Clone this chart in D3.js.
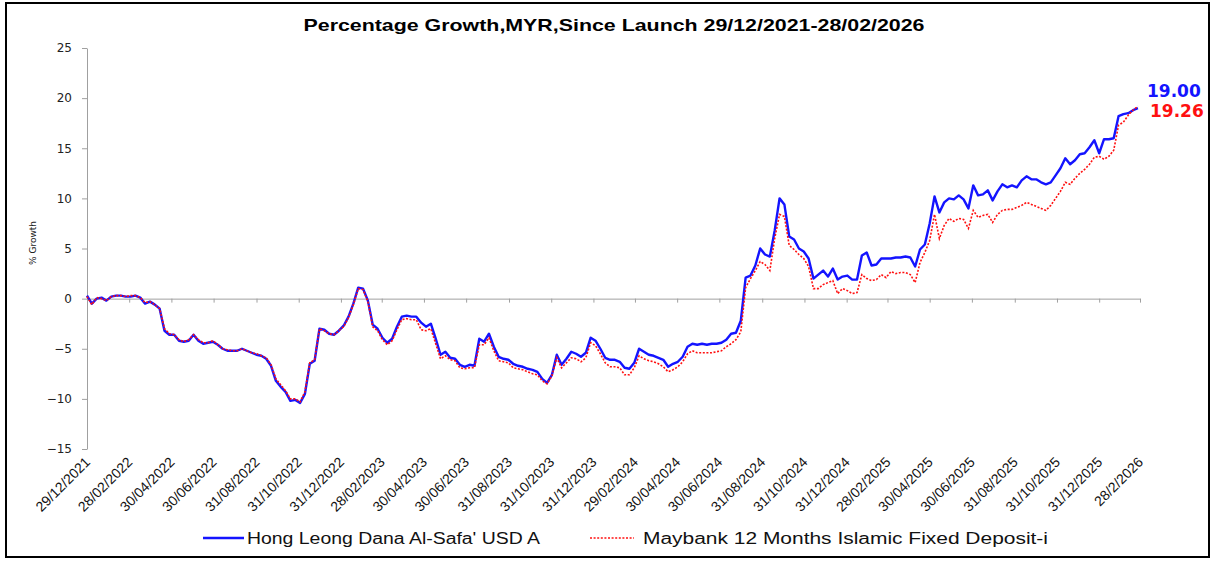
<!DOCTYPE html>
<html>
<head>
<meta charset="utf-8">
<script src="https://cdn.jsdelivr.net/npm/d3@7"></script>
<style>
  body { margin: 0; background: #fff; }
  svg { display: block; }
</style>
</head>
<body>
<svg id="chart"></svg>
<script>
const chartTitle = "Percentage Growth,MYR,Since Launch 29/12/2021-28/02/2026";
const seriesNames = ["Hong Leong Dana Al-Safa' USD A", "Maybank 12 Months Islamic Fixed Deposit-i"];
const startDate = "2021-12-29";

const fundValues = [
  0.3, -0.5, 0.0, 0.1, -0.2, 0.2, 0.3, 0.3, 0.2, 0.2,
  0.3, 0.1, -0.5, -0.3, -0.6, -1.0, -3.2, -3.6, -3.6, -4.2,
  -4.3, -4.2, -3.6, -4.2, -4.5, -4.4, -4.3, -4.6, -5.0, -5.2,
  -5.2, -5.2, -5.0, -5.2, -5.4, -5.6, -5.7, -6.0, -6.7, -8.2,
  -8.8, -9.3, -10.2, -10.1, -10.4, -9.5, -6.5, -6.2, -3.0, -3.1,
  -3.5, -3.6, -3.2, -2.7, -1.8, -0.5, 1.1, 1.0, -0.2, -2.6,
  -3.0, -3.9, -4.4, -4.0, -2.8, -1.8, -1.7, -1.8, -1.8, -2.4,
  -2.8, -2.5, -4.0, -5.6, -5.3, -5.9, -6.0, -6.6, -6.8, -6.6,
  -6.7, -4.0, -4.3, -3.5, -4.8, -5.8, -6.0, -6.1, -6.5, -6.7,
  -6.8, -7.0, -7.1, -7.3, -8.0, -8.4, -7.6, -5.6, -6.6, -6.0,
  -5.3, -5.5, -5.8, -5.4, -3.9, -4.2, -5.0, -5.9, -6.1, -6.1,
  -6.3, -6.9, -7.0, -6.4, -5.0, -5.3, -5.6, -5.7, -5.9, -6.1,
  -6.8, -6.5, -6.3, -5.8, -4.8, -4.5, -4.6, -4.5, -4.6, -4.5,
  -4.5, -4.4, -4.1, -3.5, -3.4, -2.2, 2.1, 2.3, 3.3, 5.0,
  4.4, 4.2, 6.8, 10.0, 9.4, 6.2, 5.9, 5.0, 4.7, 4.0,
  2.0, 2.4, 2.8, 2.2, 3.0, 1.9, 2.2, 2.3, 1.9, 1.9,
  4.3, 4.6, 3.3, 3.4, 4.0, 4.0, 4.0, 4.1, 4.1, 4.2,
  4.1, 3.2, 4.9, 5.4, 7.5, 10.2, 8.6, 9.6, 10.0, 9.9,
  10.3, 9.9, 9.0, 11.3, 10.3, 10.4, 10.8, 9.8, 10.7, 11.4,
  11.1, 11.3, 11.1, 11.8, 12.2, 11.9, 11.9, 11.6, 11.4, 11.6,
  12.3, 13.0, 14.0, 13.4, 13.8, 14.4, 14.5, 15.1, 15.8, 14.5,
  15.9, 15.9, 16.0, 18.2, 18.4, 18.5, 18.8, 19.0
];

const depositValues = [
  0.2, -0.6, 0.1, 0.0, -0.2, 0.2, 0.3, 0.3, 0.2, 0.3,
  0.3, 0.1, -0.4, -0.3, -0.6, -1.0, -3.0, -3.5, -3.6, -4.1,
  -4.3, -4.1, -3.6, -4.1, -4.4, -4.4, -4.2, -4.6, -5.0, -5.1,
  -5.2, -5.2, -5.0, -5.2, -5.4, -5.5, -5.7, -5.9, -6.6, -8.0,
  -8.6, -9.2, -10.0, -10.0, -10.3, -9.3, -6.4, -6.1, -3.0, -3.2,
  -3.5, -3.6, -3.2, -2.8, -1.9, -0.6, 1.0, 0.9, -0.3, -2.8,
  -3.2, -4.1, -4.6, -4.2, -3.1, -2.1, -2.0, -2.1, -2.1, -3.1,
  -3.2, -3.0, -4.5, -6.0, -5.7, -6.1, -6.2, -6.9, -7.0, -6.9,
  -6.9, -4.6, -4.6, -3.9, -5.2, -6.2, -6.3, -6.4, -6.9, -7.0,
  -7.1, -7.3, -7.5, -7.6, -8.2, -8.5, -7.7, -5.9, -6.9, -6.4,
  -5.9, -6.0, -6.3, -5.9, -4.4, -4.7, -5.5, -6.4, -6.8, -6.8,
  -6.9, -7.6, -7.6, -6.9, -5.7, -6.0, -6.2, -6.3, -6.5, -6.8,
  -7.3, -7.1, -6.8, -6.3, -5.5, -5.2, -5.4, -5.4, -5.4, -5.4,
  -5.3, -5.2, -4.8, -4.5, -4.1, -3.3, 1.1, 2.0, 2.8, 3.7,
  3.4, 2.8, 6.0, 8.4, 8.2, 5.3, 4.9, 4.4, 4.0, 3.2,
  1.0, 1.0, 1.4, 1.6, 1.8, 0.5, 1.0, 0.8, 0.5, 0.6,
  2.4, 2.0, 1.8, 1.9, 2.4, 2.1, 2.7, 2.5, 2.6, 2.6,
  2.4, 1.6, 3.6, 4.6, 5.8, 8.4, 6.0, 7.3, 8.0, 7.7,
  8.0, 7.9, 7.0, 8.8, 8.1, 8.3, 8.4, 7.6, 8.4, 8.8,
  8.9, 8.9, 9.1, 9.3, 9.6, 9.4, 9.2, 9.0, 8.8, 9.3,
  10.0, 10.7, 11.6, 11.4, 12.0, 12.5, 12.9, 13.4, 14.1, 14.2,
  13.9, 14.2, 14.8, 17.3, 17.6, 18.3, 18.8, 19.2
];

const tickLabels = [
  "29/12/2021", "28/02/2022", "30/04/2022", "30/06/2022", "31/08/2022", "31/10/2022",
  "31/12/2022", "28/02/2023", "30/04/2023", "30/06/2023", "31/08/2023", "31/10/2023",
  "31/12/2023", "29/02/2024", "30/04/2024", "30/06/2024", "31/08/2024", "31/10/2024",
  "31/12/2024", "28/02/2025", "30/04/2025", "30/06/2025", "31/08/2025", "31/10/2025",
  "31/12/2025", "28/2/2026"
];
const yTicks = [-15, -10, -5, 0, 5, 10, 15, 20, 25];
const endLabels = ["19.00", "19.26"];
const colors = ["#1414ff", "#ff1010"];

// ---- layout ----
const W = 1215, H = 561;
const plot = {left: 87, right: 1140, top: 48, bottom: 449};

const svg = d3.select("#chart").attr("width", W).attr("height", H);

// outer frame
svg.append("rect")
    .attr("x", 6).attr("y", 3)
    .attr("width", 1203).attr("height", 554)
    .attr("fill", "none").attr("stroke", "#000").attr("stroke-width", 2);

const parseDay = d3.timeParse("%Y-%m-%d");
const parseTick = d3.timeParse("%d/%m/%Y");
const t0 = parseDay(startDate);
const tickDates = tickLabels.map(parseTick);

const x = d3.scaleTime()
    .domain([tickDates[0], tickDates[tickDates.length - 1]])
    .range([plot.left, plot.right]);

const y = d3.scaleLinear()
    .domain([-15, 25])
    .range([plot.bottom, plot.top]);

const toPoints = vals => vals.map((v, i) => ({date: d3.timeDay.offset(t0, 7 * i), v: v}));
const fund = toPoints(fundValues);
const deposit = toPoints(depositValues);

// title
svg.append("text")
    .attr("x", 614).attr("y", 31)
    .attr("text-anchor", "middle")
    .attr("font-family", "Liberation Sans, Arial, sans-serif")
    .attr("font-weight", "bold")
    .attr("font-size", 17)
    .attr("textLength", 621)
    .attr("lengthAdjust", "spacingAndGlyphs")
    .text(chartTitle);

// y axis
const yAxis = svg.append("g")
    .attr("transform", `translate(${plot.left},0)`)
    .call(d3.axisLeft(y).tickValues(yTicks).tickSize(5).tickSizeOuter(0).tickPadding(10));
yAxis.select(".domain").attr("stroke", "#a0a0a0");
yAxis.selectAll(".tick line").attr("stroke", "#a0a0a0");
yAxis.selectAll(".tick text")
    .attr("font-family", "DejaVu Sans, Verdana, sans-serif")
    .attr("font-size", 12)
    .attr("fill", "#222");

svg.append("text")
    .attr("transform", `translate(36,243) rotate(-90)`)
    .attr("text-anchor", "middle")
    .attr("font-family", "DejaVu Sans, Verdana, sans-serif")
    .attr("font-size", 9)
    .attr("fill", "#222")
    .text("% Growth");

// x axis drawn along the zero line
const xAxis = svg.append("g")
    .attr("transform", `translate(0,${y(0)})`)
    .call(d3.axisBottom(x).tickValues(tickDates).tickSize(4).tickSizeOuter(0).tickFormat(""));
xAxis.select(".domain").attr("stroke", "#a0a0a0");
xAxis.selectAll(".tick line").attr("stroke", "#a0a0a0");

// rotated date labels under the plot
svg.append("g")
    .selectAll("text")
    .data(tickDates)
    .join("text")
    .attr("transform", (d, i) => `translate(${x(d) + 4},${plot.bottom + 14}) rotate(-45)`)
    .attr("text-anchor", "end")
    .attr("font-family", "Liberation Sans, Arial, sans-serif")
    .attr("font-size", 14)
    .attr("fill", "#111")
    .text((d, i) => tickLabels[i]);

// lines
const line = d3.line()
    .x(d => x(d.date))
    .y(d => y(d.v));

svg.append("path")
    .datum(fund)
    .attr("d", line)
    .attr("fill", "none")
    .attr("stroke", colors[0])
    .attr("stroke-width", 2.4)
    .attr("stroke-linejoin", "round");

svg.append("path")
    .datum(deposit)
    .attr("d", line)
    .attr("fill", "none")
    .attr("stroke", colors[1])
    .attr("stroke-width", 1.6)
    .attr("stroke-dasharray", "2,1.6");

// end value labels
svg.append("text")
    .attr("x", 1147).attr("y", 97)
    .attr("font-family", "DejaVu Sans, Verdana, sans-serif")
    .attr("font-weight", "bold")
    .attr("font-size", 17)
    .attr("fill", colors[0])
    .text(endLabels[0]);
svg.append("text")
    .attr("x", 1150).attr("y", 117)
    .attr("font-family", "DejaVu Sans, Verdana, sans-serif")
    .attr("font-weight", "bold")
    .attr("font-size", 17)
    .attr("fill", colors[1])
    .text(endLabels[1]);

// legend
const legend = svg.append("g").attr("transform", "translate(0,538)");
legend.append("line")
    .attr("x1", 203).attr("x2", 244).attr("y1", 0).attr("y2", 0)
    .attr("stroke", colors[0]).attr("stroke-width", 2.4);
legend.append("text")
    .attr("x", 247).attr("y", 6)
    .attr("font-family", "Liberation Sans, Arial, sans-serif")
    .attr("font-size", 16)
    .attr("textLength", 293)
    .attr("lengthAdjust", "spacingAndGlyphs")
    .attr("fill", "#111")
    .text(seriesNames[0]);
legend.append("line")
    .attr("x1", 590).attr("x2", 634).attr("y1", 0).attr("y2", 0)
    .attr("stroke", colors[1]).attr("stroke-width", 1.6)
    .attr("stroke-dasharray", "2,1.6");
legend.append("text")
    .attr("x", 643).attr("y", 6)
    .attr("font-family", "Liberation Sans, Arial, sans-serif")
    .attr("font-size", 16)
    .attr("textLength", 405)
    .attr("lengthAdjust", "spacingAndGlyphs")
    .attr("fill", "#111")
    .text(seriesNames[1]);
</script>
</body>
</html>
